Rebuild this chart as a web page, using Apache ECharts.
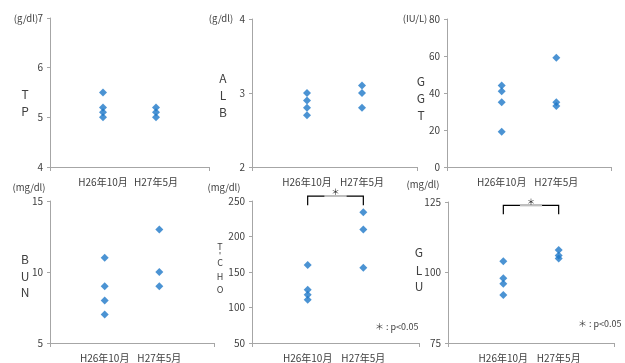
<!DOCTYPE html>
<html><head><meta charset="utf-8">
<script src="https://cdn.jsdelivr.net/npm/echarts@6/dist/echarts.min.js"></script>
<style>html,body{margin:0;padding:0;background:#fff}#c{width:625px;height:363px}</style>
</head><body><div id="c"></div>
<script>
var categories = ['H26年10月', 'H27年5月'];
var tpH26 = [5.5, 5.2, 5.1, 5.0], tpH27 = [5.2, 5.1, 5.0];
var albH26 = [3.0, 2.9, 2.8, 2.7], albH27 = [3.1, 3.0, 2.8];
var ggtH26 = [44, 41, 35, 19], ggtH27 = [59, 35, 33];
var bunH26 = [11, 9, 8, 7], bunH27 = [13, 10, 9];
var tchoH26 = [160, 125, 118, 111], tchoH27 = [234, 210, 156];
var gluH26 = [104, 98, 96, 92], gluH27 = [108, 106, 105];
var panels = [
  {name:'TP', letters:['T','P'], unit:'(g/dl)', h26:tpH26, h27:tpH27, min:4, max:7, interval:1,
   grid:{left:50, top:18, width:159, height:149}, unitPos:[26,18], letterX:25, letterY:[94,111]},
  {name:'ALB', letters:['A','L','B'], unit:'(g/dl)', h26:albH26, h27:albH27, min:2, max:4, interval:1,
   grid:{left:252, top:19, width:165, height:148}, unitPos:[221,18], letterX:223, letterY:[78,95,112]},
  {name:'GGT', letters:['G','G','T'], unit:'(IU/L)', h26:ggtH26, h27:ggtH27, min:0, max:80, interval:20,
   grid:{left:447, top:19, width:164, height:148}, unitPos:[415,18], letterX:421, letterY:[81,98,115]},
  {name:'BUN', letters:['B','U','N'], unit:'(mg/dl)', h26:bunH26, h27:bunH27, min:5, max:15, interval:5,
   grid:{left:50, top:201, width:164, height:143}, unitPos:[29,187], letterX:25, letterY:[259,276,292]},
  {name:'T-CHO', letters:['T','\'','C','H','O'], unit:'(mg/dl)', h26:tchoH26, h27:tchoH27, min:50, max:250, interval:50,
   grid:{left:252, top:201, width:167, height:143}, unitPos:[224,187], letterX:220, letterY:[247,256,263,277,290], small:true,
   bracket:{top:257, foot:244}, note:[375,327]},
  {name:'GLU', letters:['G','L','U'], unit:'(mg/dl)', h26:gluH26, h27:gluH27, min:75, max:125, interval:25,
   grid:{left:448, top:202, width:166, height:143}, unitPos:[423,184], letterX:419, letterY:[252,270,286],
   bracket:{top:123.8, foot:120.7}, note:[578,324]}
];
var FONT = '"Noto Sans CJK JP", "Noto Sans", sans-serif';
var TXT = '#404040', AX = '#a6a6a6', BLUE = '#1e78c8';
var grids = [], xAxes = [], yAxes = [], series = [], graphics = [];
panels.forEach(function(p, i){
  grids.push(p.grid);
  xAxes.push({type:'value', gridIndex:i, min:0, max:3, interval:1,
    axisLine:{lineStyle:{color:AX}}, splitLine:{show:false},
    axisTick:{show:true, customValues:[0,3], length:4, lineStyle:{color:AX}},
    axisLabel:{customValues:[1,2], color:TXT, fontSize:10, fontFamily:FONT, margin:10,
      formatter:function(v){ return categories[Math.round(v)-1] || ''; }}});
  yAxes.push({type:'value', gridIndex:i, min:p.min, max:p.max, interval:p.interval,
    axisLine:{show:true, lineStyle:{color:AX}}, splitLine:{show:false},
    axisTick:{show:true, length:3, lineStyle:{color:AX}},
    axisLabel:{color:TXT, fontSize:10, fontFamily:FONT, margin:7}});
  var d = p.h26.map(function(v){return [1, v];}).concat(p.h27.map(function(v){return [2, v];}));
  series.push({type:'scatter', xAxisIndex:i, yAxisIndex:i, data:d, symbol:'diamond', symbolSize:8,
    itemStyle:{color:BLUE}, silent:true});
  graphics.push({type:'text', x:p.unitPos[0], y:p.unitPos[1], style:{text:p.unit, fill:TXT, fontSize:9.5, fontFamily:FONT, align:'center', verticalAlign:'middle'}});
  p.letters.forEach(function(L, k){
    graphics.push({type:'text', x:p.letterX, y:p.letterY[k], style:{text:L, fill:TXT, fontSize:p.small?9:12, fontFamily:FONT, align:'center', verticalAlign:'middle'}});
  });
  if (p.note) graphics.push({type:'text', x:p.note[0], y:p.note[1], style:{text:'＊ : p<0.05', fill:TXT, fontSize:9, fontFamily:FONT, align:'left', verticalAlign:'middle'}});
});
var chart = echarts.init(document.getElementById('c'), null, {renderer:'canvas'});
chart.setOption({animation:false, grid:grids, xAxis:xAxes, yAxis:yAxes, series:series});
panels.forEach(function(p, i){
  if (!p.bracket) return;
  var a = chart.convertToPixel({gridIndex:i}, [1, p.bracket.foot]);
  var b = chart.convertToPixel({gridIndex:i}, [1, p.bracket.top]);
  var c = chart.convertToPixel({gridIndex:i}, [2, p.bracket.top]);
  var e = chart.convertToPixel({gridIndex:i}, [2, p.bracket.foot]);
  var g1 = chart.convertToPixel({gridIndex:i}, [1.3, p.bracket.top]);
  var g2 = chart.convertToPixel({gridIndex:i}, [1.7, p.bracket.top]);
  graphics.push({type:'polyline', shape:{points:[a,b,c,e]}, style:{stroke:'#000', lineWidth:1.2, fill:null}});
  graphics.push({type:'line', shape:{x1:g1[0], y1:g1[1], x2:g2[0], y2:g2[1]}, style:{stroke:'#bfbfbf', lineWidth:2}});
  graphics.push({type:'text', x:(b[0]+c[0])/2, y:b[1]-4, style:{text:'＊', fill:'#202020', fontSize:8.5, fontFamily:FONT, align:'center', verticalAlign:'middle'}});
});
chart.setOption({graphic:graphics});
</script></body></html>
